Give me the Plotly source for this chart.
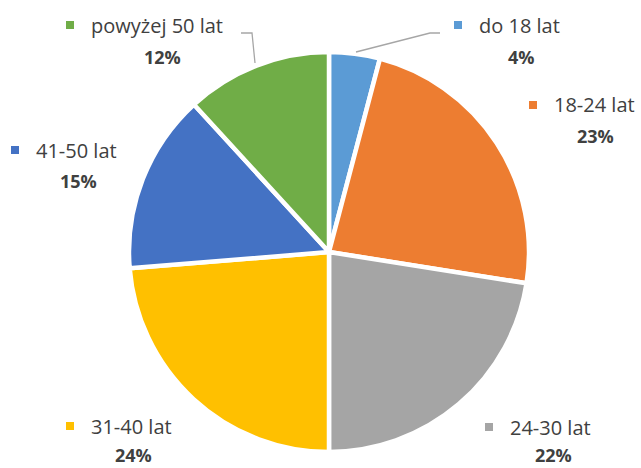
import plotly.graph_objects as go

categories = ["do 18 lat", "18-24 lat", "24-30 lat", "31-40 lat", "41-50 lat", "powyżej 50 lat"]
values = [4.1, 23.4, 22.5, 23.7, 14.5, 11.8]
percent_labels = ["4%", "23%", "22%", "24%", "15%", "12%"]
colors = ["#5B9BD5", "#ED7D31", "#A5A5A5", "#FFC000", "#4472C4", "#70AD47"]

W, H = 641, 468
# label anchor (pixel) positions: (marker x, text-line y, percent center x, percent y)
label_pos = [
    (458, 25, 521, 57),
    (533, 105, 595, 136),
    (489, 427, 553, 455),
    (70, 426, 133, 455),
    (15, 150, 78, 181),
    (70, 25, 162, 57),
]

def px(x):
    return x / W

def py(y):
    return 1 - y / H

fig = go.Figure(go.Pie(
    labels=categories,
    values=values,
    sort=False,
    direction="clockwise",
    rotation=0,
    marker=dict(colors=colors, line=dict(color="white", width=4.5)),
    textinfo="none",
    hoverinfo="label+percent",
    showlegend=False,
    domain=dict(x=[px(129), px(529)], y=[py(452), py(52)]),
))

font_family = "'Open Sans', sans-serif"
annotations = []
shapes = []
for cat, pct, col, (mx, ty, pcx, pcy) in zip(categories, percent_labels, colors, label_pos):
    shapes.append(dict(type="rect", xref="paper", yref="paper",
                       x0=px(mx - 4), x1=px(mx + 4), y0=py(ty + 4), y1=py(ty - 4),
                       fillcolor=col, line=dict(width=0)))
    annotations.append(dict(x=px(mx + 20), y=py(ty), xref="paper", yref="paper",
                            text=cat, showarrow=False, xanchor="left", yanchor="middle",
                            borderpad=0,
                            font=dict(family=font_family, size=20, color="#404040")))
    annotations.append(dict(x=px(pcx), y=py(pcy), xref="paper", yref="paper",
                            text="<b>" + pct + "</b>", showarrow=False, xanchor="center", yanchor="middle",
                            borderpad=0,
                            font=dict(family=font_family, size=18, color="#404040")))

# leader lines
shapes.append(dict(type="path", xref="paper", yref="paper",
                   path=f"M {px(356)},{py(52)} L {px(430)},{py(33)} L {px(440)},{py(33)}",
                   line=dict(color="#A6A6A6", width=1.3)))
shapes.append(dict(type="path", xref="paper", yref="paper",
                   path=f"M {px(255)},{py(63)} L {px(252)},{py(33)} L {px(241)},{py(33)}",
                   line=dict(color="#A6A6A6", width=1.3)))

fig.update_layout(
    width=W, height=H,
    margin=dict(l=0, r=0, t=0, b=0),
    paper_bgcolor="white",
    plot_bgcolor="white",
    annotations=annotations,
    shapes=shapes,
)

fig.write_html("out.html", config={"displayModeBar": False})

# remove default page margin so the figure sits at the window's top-left corner
with open("out.html", encoding="utf-8") as f:
    html = f.read()
html = html.replace("<head>", "<head><style>html,body{margin:0;padding:0;overflow:hidden;}</style>", 1)
with open("out.html", "w", encoding="utf-8") as f:
    f.write(html)
